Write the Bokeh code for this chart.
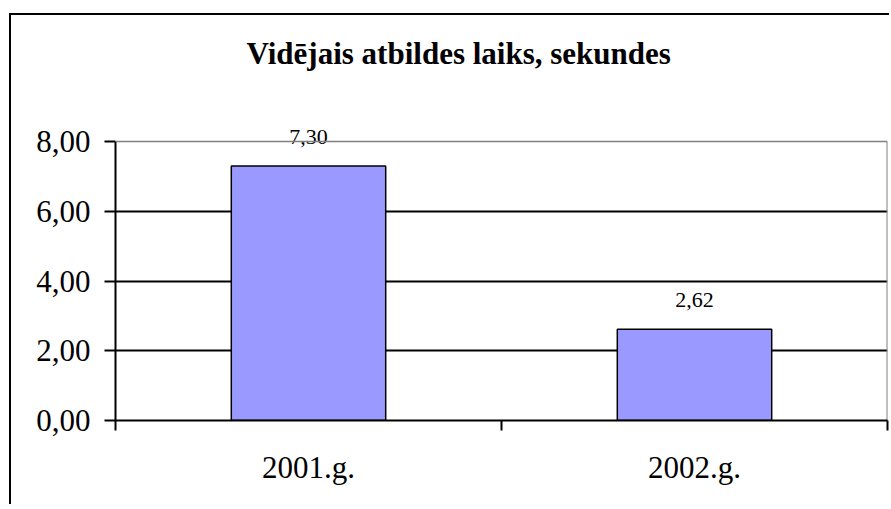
from bokeh.plotting import figure
from bokeh.models import Range1d, FixedTicker, CustomJSTickFormatter, ColumnDataSource, Title, Span
from bokeh.embed import file_html
from bokeh.resources import INLINE
from bokeh.core.properties import value

title_text = "Vidējais atbildes laiks, sekundes"
categories = ["2001.g.", "2002.g."]
values = [7.30, 2.62]
y_ticks = [0, 2, 4, 6, 8]

value_labels = [f"{v:.2f}".replace(".", ",") for v in values]
xs = [i + 0.5 for i in range(len(categories))]
src = ColumnDataSource(dict(x=xs, top=values, label=value_labels))

FONT = "Liberation Serif"

# plot area: 279 px for the axis (0..8); 30 px headroom above so value labels are not clipped
AXIS_PX = 279
HEAD_PX = 30
y_end = y_ticks[-1] * (AXIS_PX + HEAD_PX) / AXIS_PX

p = figure(width=880, height=491, output_backend="svg", toolbar_location=None,
           x_range=Range1d(0, len(categories)), y_range=Range1d(y_ticks[0], y_end),
           min_border_left=104, min_border_right=4, min_border_top=126 - HEAD_PX,
           min_border_bottom=86,
           background_fill_color="white", border_fill_color="white")

p.styles = {"position": "relative", "left": "9px", "top": "13px",
            "border-left": "2px solid black", "border-top": "2px solid black"}

p.title.text = ""
# spacer between plot area and title
p.add_layout(Title(text=" ", text_font_size="1px", standoff=68 - HEAD_PX), "above")
p.add_layout(Title(text=title_text, align="left", offset=131, standoff=0,
                   vertical_align="bottom", text_font=FONT,
                   text_font_size="31px", text_font_style="bold", text_color="black"), "above")

p.outline_line_color = None

# gray plot-area border (top and right)
p.add_layout(Span(location=y_ticks[-1], dimension="width", line_color="#808080", line_width=1.5))
p.segment(x0=[len(categories)], y0=[y_ticks[0]], x1=[len(categories)], y1=[y_ticks[-1]],
          line_color="#808080", line_width=2)

# y axis
p.yaxis.ticker = FixedTicker(ticks=y_ticks)
p.yaxis.bounds = (y_ticks[0], y_ticks[-1])
p.yaxis.formatter = CustomJSTickFormatter(code="return tick.toFixed(2).replace('.', ',');")
p.yaxis.major_tick_in = 0
p.yaxis.major_tick_out = 11
p.yaxis.minor_tick_in = 0
p.yaxis.minor_tick_out = 0
p.yaxis.axis_line_width = 2
p.yaxis.axis_line_color = "black"
p.yaxis.major_tick_line_width = 2
p.yaxis.major_tick_line_color = "black"
p.yaxis.major_label_text_font = FONT
p.yaxis.major_label_text_font_size = "31px"
p.yaxis.major_label_text_color = "black"
p.yaxis.major_label_standoff = 14

# x axis
p.xaxis.ticker = FixedTicker(ticks=xs, minor_ticks=list(range(len(categories) + 1)))
p.xaxis.major_label_overrides = {x: c for x, c in zip(xs, categories)}
p.xaxis.major_tick_in = 0
p.xaxis.major_tick_out = 0
p.xaxis.minor_tick_in = 0
p.xaxis.minor_tick_out = 10
p.xaxis.minor_tick_line_width = 2
p.xaxis.minor_tick_line_color = "black"
p.xaxis.axis_line_width = 2
p.xaxis.axis_line_color = "black"
p.xaxis.major_label_text_font = FONT
p.xaxis.major_label_text_font_size = "31px"
p.xaxis.major_label_text_color = "black"
p.xaxis.major_label_standoff = 19

p.xgrid.visible = False
p.ygrid.ticker = FixedTicker(ticks=y_ticks[1:-1])
p.ygrid.grid_line_color = "black"
p.ygrid.grid_line_width = 2

p.vbar(x="x", top="top", bottom=0, width=0.4, source=src,
       fill_color="#9999FF", line_color="black", line_width=1.5)

p.text(x="x", y="top", text="label", source=src, text_align="center",
       text_baseline="alphabetic", y_offset=-29, text_font=value(FONT),
       text_font_size="22px", text_color="black")

open("out.html", "w").write(file_html(p, INLINE))
